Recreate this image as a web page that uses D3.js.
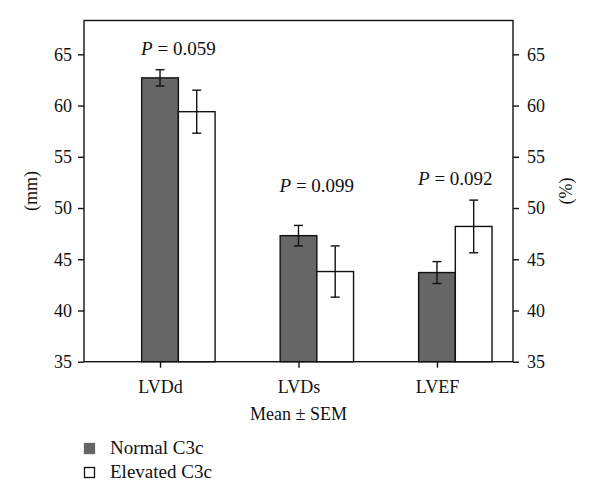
<!DOCTYPE html>
<html>
<head>
<meta charset="utf-8">
<script src="https://cdn.jsdelivr.net/npm/d3@7"></script>
<style>
  body { margin: 0; background: #fff; }
  svg { display: block; }
  text { font-family: "Liberation Serif", "Times New Roman", Times, serif; fill: #111; }
</style>
</head>
<body>
<svg id="chart" width="600" height="504"></svg>
<script>
// ---- data ----
const categories = ["LVDd", "LVDs", "LVEF"];
const seriesNames = ["Normal C3c", "Elevated C3c"];
const normalMean = [62.7, 47.3, 43.7];
const normalSem = [0.8, 1.0, 1.07];
const elevatedMean = [59.4, 43.8, 48.2];
const elevatedSem = [2.1, 2.5, 2.57];
const pValues = ["0.059", "0.099", "0.092"];
const pLabelAt = [64.9, 51.6, 52.2];
const yTicks = [35, 40, 45, 50, 55, 60, 65];
const yDomain = [35, 68.3];
const xAxisTitle = "Mean \u00b1 SEM";
const leftTitle = "(mm)";
const rightTitle = "(%)";

// ---- layout ----
const W = 600, H = 504;
const m = { left: 84, right: 87, top: 20.5, bottom: 142.3 };
const iw = W - m.left - m.right, ih = H - m.top - m.bottom;
const svg = d3.select("#chart");
const g = svg.append("g").attr("transform", `translate(${m.left},${m.top})`);

const x = d3.scalePoint().domain(categories).range([0, iw]).padding(0.549);
const y = d3.scaleLinear().domain(yDomain).range([ih, 0]);
const bw = 36.7;
const colors = ["#666666", "#ffffff"];
const serif = '"Liberation Serif", "Times New Roman", Times, serif';

const series = [
  { name: seriesNames[0], mean: normalMean, sem: normalSem, color: colors[0], off: -bw / 2 },
  { name: seriesNames[1], mean: elevatedMean, sem: elevatedSem, color: colors[1], off: bw / 2 }
];

// bars
series.forEach(s => {
  g.selectAll(null).data(categories).enter().append("rect")
    .attr("x", (c) => x(c) + s.off)
    .attr("y", (c, i) => y(s.mean[i]))
    .attr("width", bw)
    .attr("height", (c, i) => ih - y(s.mean[i]))
    .attr("fill", s.color)
    .attr("stroke", "#111")
    .attr("stroke-width", 1.4);
});

// error bars
series.forEach(s => {
  categories.forEach((c, i) => {
    const cx = x(c) + s.off + bw / 2;
    const hi = y(s.mean[i] + s.sem[i]), lo = y(s.mean[i] - s.sem[i]);
    const eg = g.append("g").attr("stroke", "#111").attr("stroke-width", 1.4);
    eg.append("line").attr("x1", cx).attr("x2", cx).attr("y1", hi).attr("y2", lo);
    eg.append("line").attr("x1", cx - 4.5).attr("x2", cx + 4.5).attr("y1", hi).attr("y2", hi);
    eg.append("line").attr("x1", cx - 4.5).attr("x2", cx + 4.5).attr("y1", lo).attr("y2", lo);
  });
});

// axes
const leftAxis = d3.axisLeft(y).tickValues(yTicks).tickSize(6).tickPadding(6);
const rightAxis = d3.axisRight(y).tickValues(yTicks).tickSize(6).tickPadding(8);
const bottomAxis = d3.axisBottom(x).tickSize(6).tickPadding(13);

function style(sel) {
  sel.attr("font-family", serif);
  sel.selectAll("path, line").attr("stroke", "#111").attr("stroke-width", 1.4);
  sel.selectAll("text").attr("font-size", 18).style("font-family", serif).attr("fill", "#111");
  sel.select(".domain").remove();
}
g.append("g").call(leftAxis).call(style);
g.append("g").attr("transform", `translate(${iw},0)`).call(rightAxis).call(style);
g.append("g").attr("transform", `translate(0,${ih})`).call(bottomAxis).call(style)
  .selectAll("text").attr("font-size", 18);

// frame
g.append("rect").attr("x", 0).attr("y", 0).attr("width", iw).attr("height", ih)
  .attr("fill", "none").attr("stroke", "#111").attr("stroke-width", 1.4);

// p labels
categories.forEach((c, i) => {
  const t = g.append("text")
    .attr("x", x(c) + bw / 2)
    .attr("y", y(pLabelAt[i]))
    .attr("text-anchor", "middle")
    .attr("font-size", 19);
  t.append("tspan").attr("font-style", "italic").text("P");
  t.append("tspan").text(" = " + pValues[i]);
});

// axis titles
svg.append("text").attr("x", m.left + iw / 2).attr("y", 420)
  .attr("text-anchor", "middle").attr("font-size", 18).text(xAxisTitle);
svg.append("text").attr("transform", "translate(37,191) rotate(-90)")
  .attr("text-anchor", "middle").attr("font-size", 18).text(leftTitle);
svg.append("text").attr("transform", "translate(572,191) rotate(-90)")
  .attr("text-anchor", "middle").attr("font-size", 18).text(rightTitle);

// legend
const lg = svg.append("g").attr("transform", "translate(84,443)");
seriesNames.forEach((n, i) => {
  const row = lg.append("g").attr("transform", `translate(0,${i * 24})`);
  row.append("rect").attr("x", 0.5).attr("y", 0.5).attr("width", 10).attr("height", 10)
    .attr("fill", colors[i]).attr("stroke", i === 0 ? "#666666" : "#111").attr("stroke-width", 1.3);
  row.append("text").attr("x", 26).attr("y", 10.5).attr("font-size", 19).text(n);
});
</script>
</body>
</html>
